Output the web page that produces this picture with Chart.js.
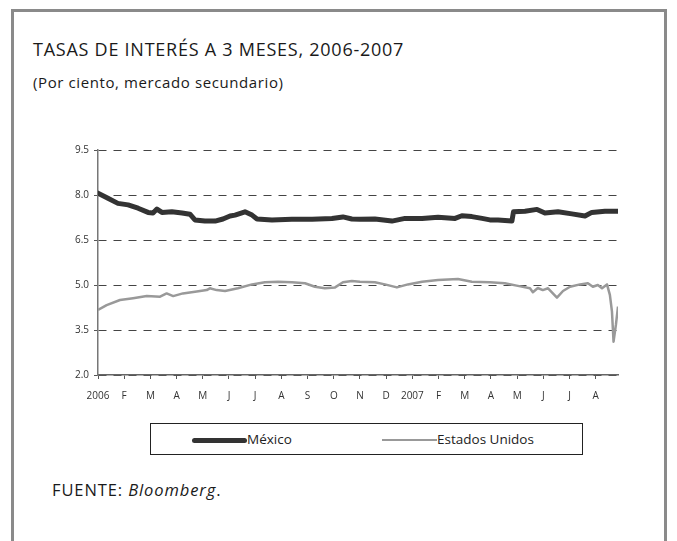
<!DOCTYPE html>
<html>
<head>
<meta charset="utf-8">
<script src="https://cdn.jsdelivr.net/npm/chart.js@4"></script>
<style>
  body { margin:0; background:#fff; width:677px; height:541px; overflow:hidden; position:relative; font-family:"Open Sans", sans-serif; color:#222; }
  #marco { position:absolute; left:11px; top:9px; width:650px; height:600px; border:3px solid #8a8a8a; border-bottom:none; }
  #titulo { position:absolute; left:33px; top:37px; font-size:18px; letter-spacing:0.75px; white-space:nowrap; color:#1a1a1a; }
  #subtitulo { position:absolute; left:33px; top:72px; font-size:15px; letter-spacing:0.6px; white-space:nowrap; color:#1a1a1a; }
  #grafica { position:absolute; left:0; top:0; }
  #leyenda { position:absolute; left:150px; top:423px; width:431px; height:30px; border:1px solid #222; }
  .item { position:absolute; top:6px; font-size:13.5px; white-space:nowrap; }
  .muestra { display:inline-block; vertical-align:middle; width:55px; }
  #fuente { position:absolute; left:52px; top:478px; font-size:16.5px; letter-spacing:0.9px; white-space:nowrap; color:#1a1a1a; }
</style>
</head>
<body>
<div id="marco"></div>
<div id="titulo">TASAS DE INTERÉS A 3 MESES, 2006-2007</div>
<div id="subtitulo">(Por ciento, mercado secundario)</div>
<canvas id="grafica" width="677" height="410"></canvas>
<div id="leyenda">
  <div class="item" style="left:41px"><span class="muestra" style="height:5px;background:#333;border-radius:3px"></span>México</div>
  <div class="item" style="left:231px"><span class="muestra" style="height:2px;background:#999"></span>Estados Unidos</div>
</div>
<div id="fuente">FUENTE: <i>Bloomberg</i>.</div>
<script>
// meses desde el 1 de enero de 2006 (posicion en el eje)
var mesEtiquetas = ['2006','F','M','A','M','J','J','A','S','O','N','D','2007','F','M','A','M','J','J','A'];
var yTicks = [2.0, 3.5, 5.0, 6.5, 8.0, 9.5];

// Mexico
var mexFecha = [0.00,0.38,0.76,1.15,1.53,1.91,2.10,2.25,2.44,2.82,3.21,3.51,3.70,4.08,4.47,4.77,5.04,5.23,5.61,5.88,6.07,6.64,7.40,8.17,8.93,9.35,9.69,10.00,10.57,11.22,11.72,12.37,12.98,13.63,13.89,14.27,14.66,14.96,15.27,15.80,15.86,16.30,16.76,17.06,17.56,18.09,18.59,18.85,19.35,19.85];
var mexTasa  = [8.06,7.89,7.72,7.67,7.56,7.42,7.40,7.53,7.42,7.44,7.40,7.36,7.17,7.13,7.13,7.20,7.30,7.33,7.44,7.33,7.20,7.17,7.19,7.19,7.22,7.27,7.20,7.19,7.20,7.13,7.22,7.22,7.26,7.22,7.31,7.28,7.22,7.17,7.17,7.13,7.44,7.46,7.52,7.40,7.44,7.37,7.30,7.42,7.46,7.46];

// Estados Unidos
var euaFecha = [0.00,0.33,0.84,1.34,1.86,2.37,2.62,2.87,3.24,3.77,4.15,4.27,4.53,4.85,5.34,5.88,6.37,6.87,7.40,7.90,8.28,8.66,9.05,9.35,9.69,10.00,10.57,10.95,11.41,11.83,12.37,12.98,13.74,14.27,14.96,15.53,16.03,16.49,16.60,16.79,16.98,17.18,17.52,17.75,18.02,18.40,18.70,18.89,19.08,19.24,19.43,19.54,19.62,19.68,19.77,19.85];
var euaTasa  = [4.17,4.33,4.50,4.56,4.63,4.61,4.72,4.63,4.72,4.78,4.83,4.89,4.83,4.80,4.89,5.02,5.09,5.11,5.09,5.06,4.94,4.89,4.92,5.09,5.13,5.11,5.09,5.02,4.92,5.02,5.11,5.17,5.20,5.11,5.09,5.06,4.97,4.89,4.76,4.90,4.83,4.89,4.58,4.80,4.94,5.02,5.06,4.94,5.00,4.89,5.02,4.67,4.11,3.11,3.67,4.28];

function puntos(xs, ys) {
  return xs.map(function (x, i) { return {x: x, y: ys[i]}; });
}

var fuenteEje = {family: '"Open Sans", sans-serif', size: 10};

new Chart(document.getElementById('grafica'), {
  type: 'line',
  data: {
    datasets: [{
      label: 'México',
      data: puntos(mexFecha, mexTasa),
      borderColor: '#333333',
      borderWidth: 5,
      borderJoinStyle: 'round',
      borderCapStyle: 'round',
      pointRadius: 0,
      tension: 0
    }, {
      label: 'Estados Unidos',
      data: puntos(euaFecha, euaTasa),
      borderColor: '#999999',
      borderWidth: 2.5,
      borderJoinStyle: 'round',
      pointRadius: 0,
      tension: 0
    }]
  },
  options: {
    responsive: false,
    animation: false,
    layout: {padding: {left: 0, top: 150, right: 59, bottom: 0}},
    plugins: {legend: {display: false}, tooltip: {enabled: false}},
    scales: {
      x: {
        type: 'linear',
        min: 0,
        max: 19.85,
        afterBuildTicks: function (s) { s.ticks = mesEtiquetas.map(function (_, i) { return {value: i}; }); },
        afterFit: function (s) { s.height = 35; },
        ticks: {
          autoSkip: false, maxRotation: 0, padding: 11,
          color: '#333', font: fuenteEje,
          callback: function (v) { return mesEtiquetas[v]; }
        },
        grid: {drawOnChartArea: false, drawTicks: true, tickLength: 4, tickColor: '#555', tickWidth: 1},
        border: {display: true, color: '#666', width: 1.5}
      },
      y: {
        min: 2,
        max: 9.5,
        afterBuildTicks: function (s) { s.ticks = yTicks.map(function (v) { return {value: v}; }); },
        afterFit: function (s) { s.width = 98; },
        ticks: {
          padding: 5, color: '#333', font: fuenteEje,
          callback: function (v) { return v.toFixed(1); }
        },
        grid: {color: '#444', lineWidth: 1, tickLength: 4, tickColor: '#555', tickWidth: 1, tickBorderDash: []},
        border: {display: true, color: '#777', width: 1.5, dash: [8, 7]}
      }
    }
  }
});
</script>
</body>
</html>
